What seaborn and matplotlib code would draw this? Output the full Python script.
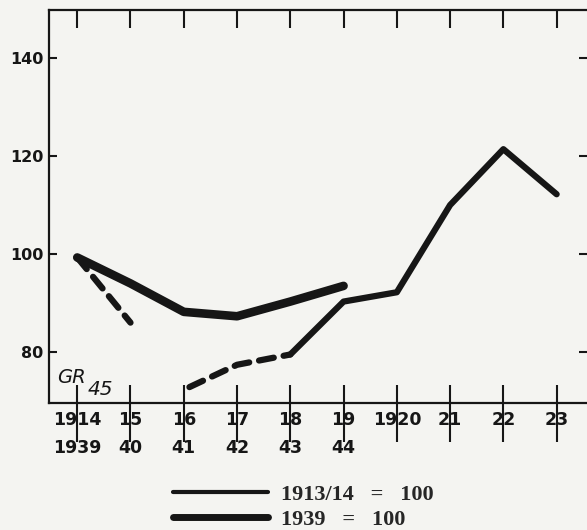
import numpy as np
import matplotlib
matplotlib.use("Agg")
import matplotlib.pyplot as plt
from matplotlib.lines import Line2D
import seaborn as sns

# x positions: 1914/1939 ... 1923
top_years = ['1914', '15', '16', '17', '18', '19', '1920', '21', '22', '23']
low_years = ['1939', '40', '41', '42', '43', '44', '', '', '', '']
pos = list(range(10))

# index 1913/14 = 100 (thin line), broken into pieces as drawn
idx_1913 = [99.3, 86.0, 72.3, 77.4, 79.5, 90.3, 92.2, 110.0, 121.4, 112.2]
dashed_a = [0, 1]
dashed_b = [2, 3, 4]
solid_c = [4, 5, 6, 7, 8, 9]

# index 1939 = 100 (thick line)
pos_1939 = [0, 1, 2, 3, 4, 5]
idx_1939 = [99.3, 94.0, 88.2, 87.3, 90.3, 93.5]

ink = '#161616'
paper = '#f4f4f1'

sns.set_style('white')
plt.rcParams['font.family'] = ['DejaVu Sans']

fig = plt.figure(figsize=(5.87, 5.30), dpi=100, facecolor=paper)
ax = fig.add_axes([49/587, 1-403/530, 1-49/587, 393/530])
ax.set_facecolor(paper)

# thick line 1939 = 100
sns.lineplot(x=pos_1939, y=idx_1939, ax=ax, color=ink, linewidth=6.2,
             solid_capstyle='round', solid_joinstyle='round')
# thin line 1913/14 = 100
sns.lineplot(x=[pos[i] for i in dashed_a], y=[idx_1913[i] for i in dashed_a], ax=ax,
             color=ink, linewidth=4.5, linestyle=(0, (2.4, 1.6)), dash_capstyle='round')
sns.lineplot(x=[pos[i] for i in dashed_b], y=[idx_1913[i] for i in dashed_b], ax=ax,
             color=ink, linewidth=4.5, linestyle=(3.0, (2.4, 1.6)), dash_capstyle='round')
sns.lineplot(x=[pos[i] for i in solid_c], y=[idx_1913[i] for i in solid_c], ax=ax,
             color=ink, linewidth=4.5, solid_capstyle='round', solid_joinstyle='round')

ax.set_xlim(-0.53, 9.57)
ax.set_ylim(69.6, 149.8)

for s in ['left', 'top', 'bottom']:
    ax.spines[s].set_color(ink)
    ax.spines[s].set_linewidth(1.6)
ax.spines['right'].set_visible(False)

ax.set_xticks(pos)
ax.set_xticklabels([a + '\n' + b for a, b in zip(top_years, low_years)])
ax.xaxis.remove_overlapping_locs = False
ax.set_xticks(pos, minor=True)
ax.tick_params(axis='x', which='major', direction='in', length=13, width=1.5,
               top=True, bottom=True, color=ink, pad=6, labelsize=12.5, labelcolor=ink)
ax.tick_params(axis='x', which='minor', direction='out', length=28, width=1.5,
               top=False, bottom=True, color=ink)
for lab in ax.get_xticklabels():
    lab.set_linespacing(1.7)
    lab.set_fontweight('bold')

ax.set_yticks([80, 100, 120, 140])
ax.tick_params(axis='y', direction='in', length=6, width=1.5, left=True, right=True,
               color=ink, pad=4, labelsize=11.5, labelcolor=ink)
for lab in ax.get_yticklabels():
    lab.set_fontweight('bold')

ax.set_xlabel('')
ax.set_ylabel('')

ax.text(0.016, 0.04, 'GR', transform=ax.transAxes, fontsize=14, style='italic',
        color=ink, ha='left', va='bottom')
ax.text(0.071, 0.01, '45', transform=ax.transAxes, fontsize=14.5, style='italic',
        color=ink, ha='left', va='bottom')

handles = [Line2D([], [], color=ink, linewidth=3.0),
           Line2D([], [], color=ink, linewidth=5.0)]
fig.legend(handles, ['1913/14   =   100', '1939   =   100'], loc='upper left',
           bbox_to_anchor=(173/587, 1-484/530), frameon=False, borderpad=0,
           borderaxespad=0, handlelength=4.28, handletextpad=0.6, labelspacing=0.2,
           prop={'family': 'Liberation Serif', 'size': 16, 'weight': 'bold'})

fig.savefig('out.png', dpi=100, facecolor=paper)
